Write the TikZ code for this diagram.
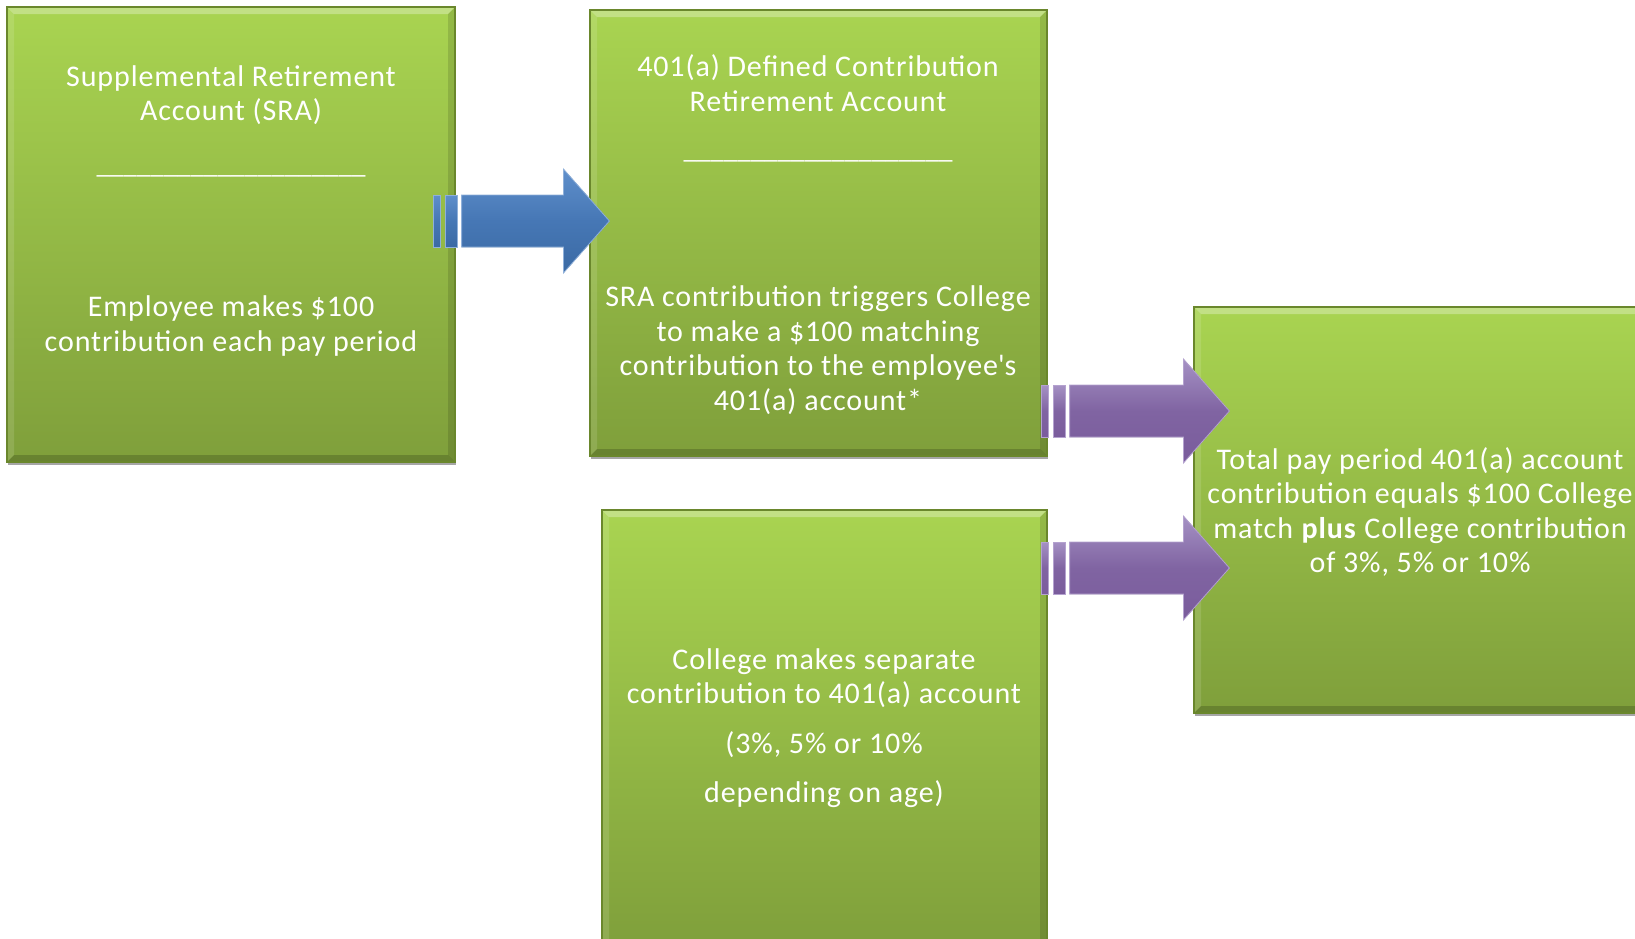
\documentclass[tikz,border=0pt]{standalone}
\usepackage{fontspec}
\setmainfont{Carlito}[LetterSpace=3]
\newfontfamily\rulefont{Carlito}
\usetikzlibrary{
    positioning,
    calc,
    shadows,
}
\definecolor{boxtop}{HTML}{A9D451}
\definecolor{boxbot}{HTML}{7F9F3B}
\definecolor{boxedge}{HTML}{6A872C}
\definecolor{flowbluetop}{HTML}{5F8FCB}
\definecolor{flowbluemid}{HTML}{4677B5}
\definecolor{flowbluebot}{HTML}{3B6AA4}
\definecolor{flowblueline}{HTML}{8FB0DA}
\definecolor{flowblueshadow}{HTML}{243F66}
\definecolor{flowpurpletop}{HTML}{A591C4}
\definecolor{flowpurplemid}{HTML}{8064A2}
\definecolor{flowpurplebot}{HTML}{7A5C9C}
\definecolor{flowpurpleline}{HTML}{B4A2CF}
\definecolor{flowpurpleshadow}{HTML}{3F2F55}

% block arrow with two tail bars: #1 colour prefix, #2 tail point, #3 tip (same height)
\newcommand{\blockarrow}[3]{%
  \begin{scope}[shift={(3,4)}]
    \fill[#1shadow] ($(#2)+(0,-26)$) rectangle ($(#2)+(7,26)$);
    \fill[#1shadow] ($(#2)+(12,-26)$) rectangle ($(#2)+(24,26)$);
    \fill[#1shadow] ($(#2)+(28,-26)$) -- ($(#3)+(-46,-26)$) -- ($(#3)+(-46,-52)$)
        -- (#3) -- ($(#3)+(-46,52)$) -- ($(#3)+(-46,26)$) -- ($(#2)+(28,26)$) -- cycle;
  \end{scope}
  \shade[top color=#1top, bottom color=#1bot, middle color=#1mid, draw=#1line, line width=0.8]
      ($(#2)+(0,-26)$) rectangle ($(#2)+(7,26)$);
  \shade[top color=#1top, bottom color=#1bot, middle color=#1mid, draw=#1line, line width=0.8]
      ($(#2)+(12,-26)$) rectangle ($(#2)+(24,26)$);
  \shade[top color=#1top, bottom color=#1bot, middle color=#1mid, draw=#1line, line width=0.8]
      ($(#2)+(28,-26)$) -- ($(#3)+(-46,-26)$) -- ($(#3)+(-46,-52)$)
      -- (#3) -- ($(#3)+(-46,52)$) -- ($(#3)+(-46,26)$) -- ($(#2)+(28,26)$) -- cycle;
}

\begin{document}
\begin{tikzpicture}[
    x=1pt, y=-1pt,
    bevel/.style = {path picture={
        \fill[white, opacity=.30] let \p1=(path picture bounding box.north west),
            \p2=(path picture bounding box.south east) in
            (\x1,\y1) -- (\x2,\y1) -- (\x2-7pt,\y1-7pt) -- (\x1+7pt,\y1-7pt) -- cycle;
        \fill[white, opacity=.12] let \p1=(path picture bounding box.north west),
            \p2=(path picture bounding box.south east) in
            (\x1,\y1) -- (\x1+7pt,\y1-7pt) -- (\x1+7pt,\y2+7pt) -- (\x1,\y2) -- cycle;
        \fill[black, opacity=.12] let \p1=(path picture bounding box.north west),
            \p2=(path picture bounding box.south east) in
            (\x2,\y1) -- (\x2-7pt,\y1-7pt) -- (\x2-7pt,\y2+7pt) -- (\x2,\y2) -- cycle;
        \fill[black, opacity=.18] let \p1=(path picture bounding box.north west),
            \p2=(path picture bounding box.south east) in
            (\x1,\y2) -- (\x1+7pt,\y2+7pt) -- (\x2-7pt,\y2+7pt) -- (\x2,\y2) -- cycle;
    }},
    greenbox/.style = {rectangle, draw=boxedge, line width=1.2,
                       top color=boxtop, bottom color=boxbot, bevel,
                       drop shadow={shadow xshift=1pt, shadow yshift=-3pt,
                                    fill=black, opacity=.35}},
    txt/.style  = {text=white, align=center, inner sep=0pt,
                   font=\fontsize{30}{34.5}\selectfont},
    rule/.style = {text=white, inner sep=0pt, font=\rulefont\fontsize{27}{30}\selectfont},
]
\useasboundingbox (0,0) rectangle (1635,938);
\fill[white] (0,0) rectangle (1635,938);
\clip (0,0) rectangle (1635,938);

%% ── Boxes ───────────────────────────────────────────────────────────────────
\node[greenbox, minimum width=448, minimum height=455] (sra)   at ( 231,234.5) {};
\node[greenbox, minimum width=457, minimum height=446] (dca)   at (818.5,233)  {};
\node[greenbox, minimum width=445, minimum height=440] (coll)  at (824.5,730)  {};
\node[greenbox, minimum width=448, minimum height=406] (total) at (1418,510)   {};

%% ── Arrows ──────────────────────────────────────────────────────────────────
\coordinate (a1s) at ($(sra.east)+(-22,-13.5)$);
\coordinate (a1t) at ($(a1s -| dca.west)+(20,0)$);
\coordinate (a2s) at ($(dca.east)+(-6,178)$);
\coordinate (a2t) at ($(a2s -| total.west)+(36,0)$);
\coordinate (a3s) at ($(coll.east)+(-6,-162)$);
\coordinate (a3t) at ($(a3s -| total.west)+(36,0)$);
\blockarrow{flowblue}{a1s}{a1t}
\blockarrow{flowpurple}{a2s}{a2t}
\blockarrow{flowpurple}{a3s}{a3t}

%% ── Box texts ───────────────────────────────────────────────────────────────
\node[txt]  (sratitle) at (231, 95)  {Supplemental Retirement\\Account (SRA)};
\node[rule] (sraline)  at (231,175)  {\_\_\_\_\_\_\_\_\_\_\_\_\_\_\_\_\_\_\_\_};
\node[txt]  (srabody)  at (231,326)  {Employee makes \$100\\contribution each pay period};

\node[txt]  (dcatitle) at (818, 83)  {401(a) Defined Contribution\\Retirement Account};
\node[rule] (dcaline)  at (818,160)  {\_\_\_\_\_\_\_\_\_\_\_\_\_\_\_\_\_\_\_\_};
\node[txt]  (dcabody)  at (818,350)  {SRA contribution triggers College\\to make a \$100 matching\\
                                      contribution to the employee\textquotesingle s\\401(a) account*};

\node[txt]  (collbody) at (824,728)  {College makes separate\\contribution to 401(a) account\\[15pt]
                                      (3\%, 5\% or 10\%\\[15pt]depending on age)};

\node[txt]  (totbody)  at (1420,512) {Total pay period 401(a) account\\contribution equals \$100 College\\
                                      match \textbf{plus} College contribution\\of 3\%, 5\% or 10\%};

\end{tikzpicture}
\end{document}
